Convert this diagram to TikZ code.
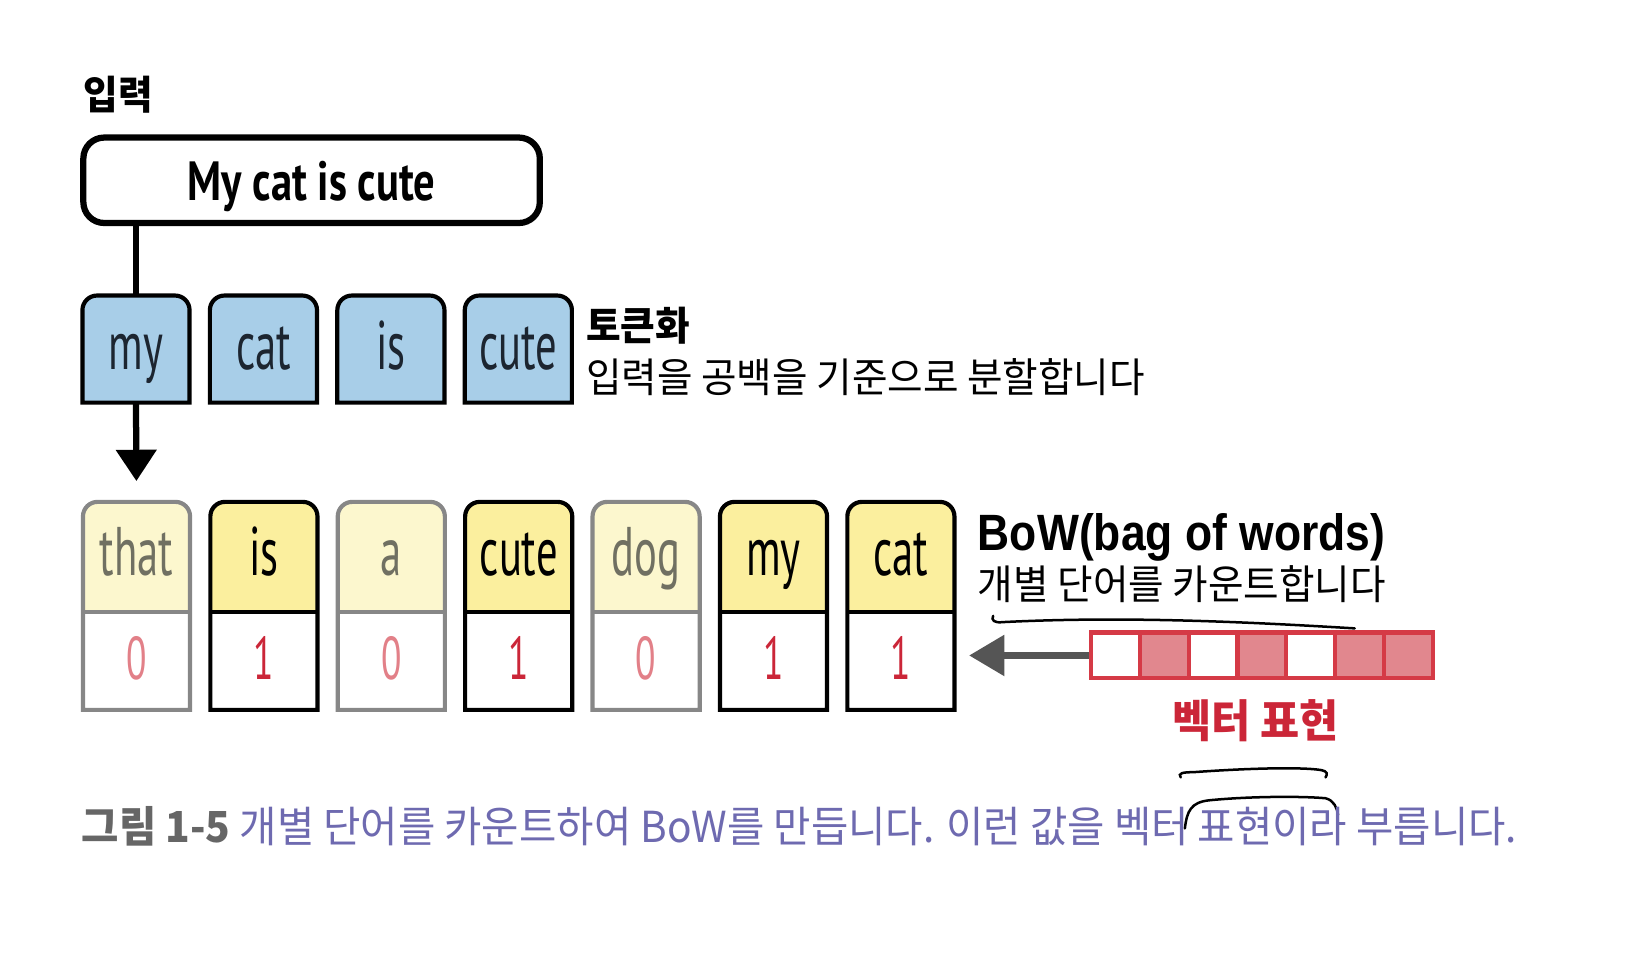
\documentclass[tikz,border=0pt]{standalone}
\usepackage{fontspec}
\setmainfont{Liberation Sans}[FakeStretch=0.87]
\newfontfamily\korfont{Noto Sans CJK KR}[FakeStretch=0.95]
\newfontfamily\condfont{PT Sans}[FakeStretch=0.62]
\newfontfamily\phrasefont{PT Sans}[FakeStretch=0.77]
\usetikzlibrary{arrows.meta}
\pgfdeclarelayer{background}
\pgfsetlayers{background,main}

\definecolor{tokblue}{RGB}{168,206,232}
\definecolor{tokink}{RGB}{28,37,48}
\definecolor{yellowon}{RGB}{251,239,158}
\definecolor{yellowoff}{RGB}{252,247,206}
\definecolor{grayline}{RGB}{135,135,135}
\definecolor{graytext}{RGB}{112,112,98}
\definecolor{countred}{RGB}{203,38,56}
\definecolor{fadedred}{RGB}{226,128,136}
\definecolor{vecred}{RGB}{213,58,70}
\definecolor{vecpink}{RGB}{225,135,142}
\definecolor{arrowgray}{RGB}{85,85,85}
\definecolor{capgray}{RGB}{102,102,102}
\definecolor{cappurple}{RGB}{110,106,176}

\begin{document}
\begin{tikzpicture}
  [x=0.5pt,y=-0.5pt,every node/.style={inner sep=0},
   txt/.style={anchor=west,font=\korfont\fontsize{19.5pt}{22pt}\selectfont},
   head/.style={anchor=west,font=\korfont\bfseries\fontsize{19pt}{22pt}\selectfont},
   inbox/.style={draw,line width=3pt,rounded corners=10pt,minimum width=219pt,minimum height=41pt,
     text height=22pt,text depth=3pt,font=\phrasefont\bfseries\fontsize{26.5pt}{30pt}\selectfont},
   token/.style={minimum width=51pt,minimum height=51pt,text height=26pt,text depth=6pt,
     text=tokink,font=\condfont\fontsize{33pt}{36pt}\selectfont},
   word/.style={minimum width=51pt,minimum height=52.5pt,text height=23.5pt,text depth=6pt,
     font=\condfont\fontsize{33pt}{36pt}\selectfont},
   count/.style={anchor=north,minimum width=51pt,minimum height=46.5pt,text height=20pt,text depth=2.5pt,
     font=\condfont\fontsize{29pt}{32pt}\selectfont},
   word on/.style={text=black}, word off/.style={text=graytext},
   count on/.style={text=countred}, count off/.style={text=fadedred},
   fill on/.style={fill=yellowon}, fill off/.style={fill=yellowoff},
   line on/.style={draw=black,line width=2pt}, line off/.style={draw=grayline,line width=2pt},
   cell/.style={draw=vecred,line width=2pt,minimum width=23.43pt,minimum height=22pt},
   cell 0/.style={fill=white}, cell 1/.style={fill=vecpink},
   scribble/.style={line width=1.2pt,line cap=round}]
  \useasboundingbox (0,0) rectangle (1568,919);

  % input sentence
  \node[head] (inlabel) at (80,91) {입력};
  \node[inbox] (in) at (299,173) {My cat is cute};

  % tokens
  \foreach \tok [count=\i] in {my,cat,is,cute} {
    \node[token] (t\i) at ({130.5+122.3*(\i-1)},335) {\tok};
    \begin{pgfonlayer}{background}
      \filldraw[fill=tokblue,line width=2pt] (t\i.west) [rounded corners=7pt] -- (t\i.north west)
        -- (t\i.north east) -- (t\i.east) [sharp corners] -- (t\i.south east) -- (t\i.south west) -- cycle;
    \end{pgfonlayer}
  }
  \node[head] (tokhead) at (562,313) {토큰화};
  \node[txt] (tokdesc) at (562,362) {입력을 공백을 기준으로 분할합니다};

  % bag of words
  \foreach \word/\cnt/\state [count=\i] in {that/0/off,is/1/on,a/0/off,cute/1/on,dog/0/off,my/1/on,cat/1/on} {
    \node[word,word \state] (w\i) at ({131+122.25*(\i-1)},534.5) {\word};
    \node[count,count \state] (c\i) at (w\i.south) {\cnt};
    \begin{pgfonlayer}{background}
      \fill[fill \state] (w\i.west) [rounded corners=7pt] -- (w\i.north west) -- (w\i.north east)
        -- (w\i.east) [sharp corners] -- (w\i.south east) -- (w\i.south west) -- cycle;
      \draw[line \state] (w\i.south west) [rounded corners=7pt] -- (w\i.north west) -- (w\i.north east)
        -- (w\i.east) [sharp corners] -- (c\i.south east) -- (c\i.south west) -- cycle;
      \draw[line \state] (w\i.south west) -- (w\i.south east);
    \end{pgfonlayer}
  }
  \node[anchor=base west,font=\bfseries\fontsize{24.5pt}{28pt}\selectfont] (bowhead) at (938,528) {BoW(bag of words)};
  \node[txt] (bowdesc) at (938,561) {개별 단어를 카운트합니다};

  % vector
  \foreach \v [count=\i] in {0,1,0,1,0,1,1}
    \node[cell,cell \v] (v\i) at ({1070.4+46.86*(\i-1)},629) {};
  \node[font=\korfont\bfseries\fontsize{21.5pt}{24pt}\selectfont,text=countred] (veclabel) at (1205,692) {벡터 표현};

  \draw[line width=3pt] (t1.north |- in.south) -- (t1.north);
  \draw[line width=3pt,arrows={-{Triangle[width=19pt,length=15pt]}},shorten >=10pt] (t1.south) -- (w1.north);
  \draw[arrowgray,line width=3.5pt,arrows={-{Triangle[width=19pt,length=17pt]}},shorten >=7pt]
    (v1.west) -- (v1.west -| c7.east);

  % hand marks
  \draw[scribble] (953,591) .. controls (951,595) and (954,598) .. (962,597)
    .. controls (1080,591) and (1200,597) .. (1300,603);
  \draw[scribble] (1133,746) .. controls (1130,742) and (1135,741) .. (1145,741)
    .. controls (1200,737) and (1250,736) .. (1268,739) .. controls (1274,740) and (1274,743) .. (1272,746);
  \draw[scribble] (1137,795) .. controls (1139,778) and (1143,770) .. (1160,768)
    .. controls (1200,764) and (1250,764) .. (1272,766) .. controls (1280,768) and (1283,775) .. (1284,782);

  % caption
  \node[anchor=west,font=\korfont\fontsize{20.5pt}{24pt}\selectfont] (caption) at (78,793)
    {\textcolor{capgray}{\bfseries 그림 1-5} \textcolor{cappurple}{개별 단어를 카운트하여 BoW를 만듭니다. 이런 값을 벡터 표현이라 부릅니다.}};
\end{tikzpicture}
\end{document}
